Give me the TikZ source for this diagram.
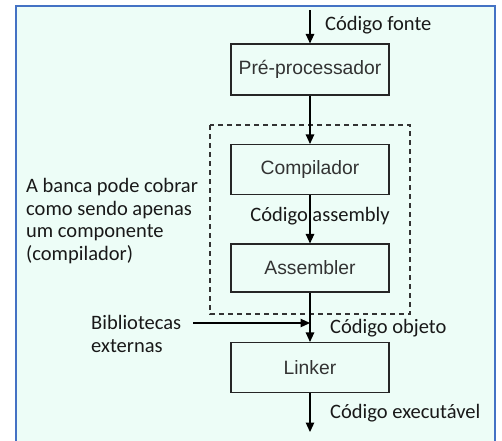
\documentclass[tikz,border=0pt]{standalone}
\usepackage{fontspec}
\setmainfont{Carlito}
\newfontfamily\boxfont{Liberation Sans}
\usetikzlibrary{arrows.meta}
\definecolor{framebl}{HTML}{4472C4}
\definecolor{mint}{HTML}{EDFDF7}
\definecolor{boxtxt}{HTML}{333333}
\tikzset{
  procbox/.style={draw=black!85, line width=1.1pt, minimum width=158pt, inner sep=0pt,
    font=\boxfont\fontsize{19.3}{21}\selectfont, text=boxtxt},
  flow/.style={line width=1.1pt, -{Triangle[length=9.5pt,width=8.5pt]}},
  lbl/.style={inner sep=0pt, font=\fontsize{20.5}{22.6}\selectfont, text=black!90},
}
\begin{document}
\begin{tikzpicture}[x=1pt,y=-1pt]
\useasboundingbox (0,0) rectangle (502,440);
\fill[white] (0,0) rectangle (502,440);
\draw[framebl, line width=2pt, fill=mint] (16,6) rectangle (495,452);
% dashed group
\draw[black!80, line width=1.1pt, dash pattern=on 5pt off 4pt] (210,125) rectangle (410,314);
% boxes
\node[procbox, minimum height=51pt] (pre) at (310,69.5) {Pré-processador};
\node[procbox, minimum height=50pt] (comp) at (310,169.5) {Compilador};
\node[procbox, minimum height=48pt] (asm) at (310,268) {Assembler};
\node[procbox, minimum height=50pt] (link) at (310,367.5) {Linker};
\coordinate (top) at (310,10);
\coordinate (bot) at (310,432);
\coordinate (libstart) at (193,323);
\coordinate (libend) at (310,323);
% connectors
\draw[flow] (top) -- (pre.north);
\draw[flow] (pre.south) -- (comp.north);
\draw[flow] (comp.south) -- (asm.north);
\draw[flow] (asm.south) -- (link.north);
\draw[flow] (libstart) -- (libend);
\draw[flow] (link.south) -- (bot);
% labels
\node[lbl, anchor=west] (lfonte) at (325,25) {Código fonte};
\node[lbl] (lasm) at (320,216) {Código assembly};
\node[lbl, anchor=west] (lobj) at (330,328) {Código objeto};
\node[lbl, anchor=west] (lexe) at (330,413) {Código executável};
\node[lbl, anchor=west, align=left] (libs) at (91,334) {Bibliotecas\\externas};
\node[lbl, anchor=west, align=left] (note) at (26,221) {A banca pode cobrar\\como sendo apenas\\um componente\\(compilador)};
\end{tikzpicture}
\end{document}
